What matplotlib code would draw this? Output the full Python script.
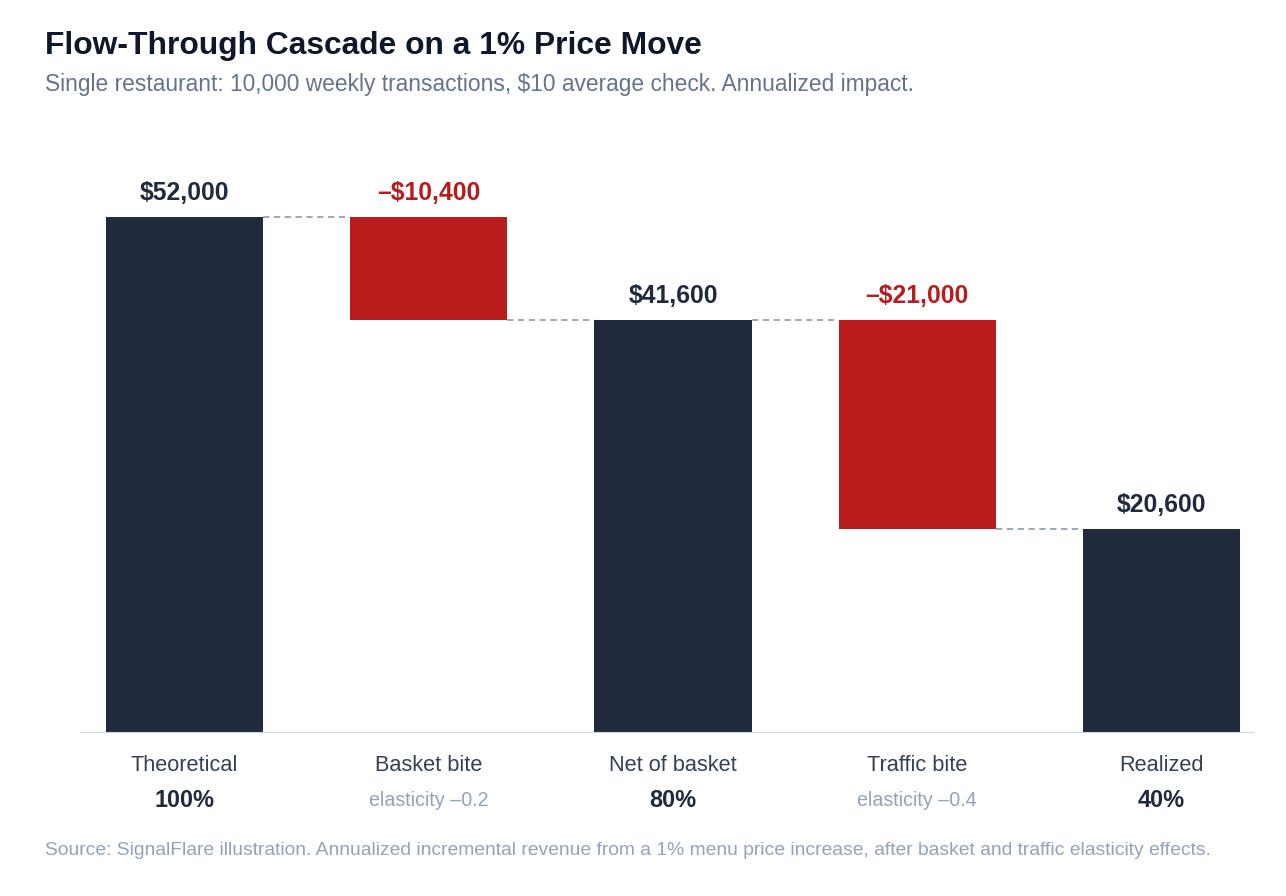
import matplotlib
matplotlib.use("Agg")
import matplotlib.pyplot as plt

plt.rcParams['font.family'] = ['Liberation Sans', 'DejaVu Sans']

# chart data
categories = ["Theoretical", "Basket bite", "Net of basket", "Traffic bite", "Realized"]
values = [52000, -10400, 41600, -21000, 20600]
is_total = [True, False, True, False, True]
sub_labels = ["100%", "elasticity \u20130.2", "80%", "elasticity \u20130.4", "40%"]
value_labels = ["$52,000", "\u2013$10,400", "$41,600", "\u2013$21,000", "$20,600"]

DARK = "#1f2a3c"
RED = "#b91c1c"
CONNECT = "#94a3b8"

fig = plt.figure(figsize=(12.86, 8.96), dpi=100)
W, H = 1286, 896

# axes placed in pixel terms: baseline at y=733, top at y=150
ax = fig.add_axes([80 / W, 1 - 733 / H, (1254 - 80) / W, (733 - 150) / H])
ax.set_xlim(-0.428, 4.379)
ax.set_ylim(0, 52000 * (733 - 150) / 516)
ax.axis("off")

bar_w = 0.643
running = 0
bottoms, heights, tops = [], [], []
for v, tot in zip(values, is_total):
    if tot:
        bottoms.append(0)
        heights.append(v)
        running = v
        tops.append(v)
    else:
        new = running + v
        bottoms.append(new)
        heights.append(-v)
        tops.append(running)
        running = new

xs = list(range(len(categories)))
colors = [DARK if t else RED for t in is_total]
ax.bar(xs, heights, bottom=bottoms, width=bar_w, color=colors, linewidth=0, zorder=2)

# dashed connectors between bars
level = 0
for i in range(len(values) - 1):
    if is_total[i]:
        level = values[i]
    else:
        level = level + values[i]
    ax.plot([i + bar_w / 2, i + 1 - bar_w / 2], [level, level], color=CONNECT,
            lw=1.3, dashes=(3.5, 2.5), zorder=1)

# baseline
ax.axhline(0, color="#cbd5e1", lw=1.5, zorder=3)

# value labels
for i, (x, top) in enumerate(zip(xs, tops)):
    ax.annotate(value_labels[i], (x, top), xytext=(0, 8.5), textcoords="offset points",
                ha="center", va="bottom", fontsize=17.8, fontweight="bold",
                color=DARK if is_total[i] else RED)

# category + sub labels
for i, x in enumerate(xs):
    ax.annotate(categories[i], (x, 0), xytext=(0, -23.3), textcoords="offset points",
                ha="center", va="center", fontsize=15.7, color="#334155")
    if is_total[i]:
        ax.annotate(sub_labels[i], (x, 0), xytext=(0, -48.8), textcoords="offset points",
                    ha="center", va="center", fontsize=16.9, fontweight="bold", color=DARK)
    else:
        ax.annotate(sub_labels[i], (x, 0), xytext=(0, -48.8), textcoords="offset points",
                    ha="center", va="center", fontsize=14.1, color="#94a3b8")

fig.text(45 / W, 1 - 46 / H, "Flow-Through Cascade on a 1% Price Move", ha="left", va="center",
         fontsize=22.9, fontweight="bold", color="#0f172a")
fig.text(45 / W, 1 - 84 / H, "Single restaurant: 10,000 weekly transactions, $10 average check. Annualized impact.",
         ha="left", va="center", fontsize=16.4, color="#64748b")
fig.text(45 / W, 1 - 850 / H,
         "Source: SignalFlare illustration. Annualized incremental revenue from a 1% menu price increase, after basket and traffic elasticity effects.",
         ha="left", va="center", fontsize=13.9, color="#94a3b8")

fig.savefig("out.png", dpi=100)
